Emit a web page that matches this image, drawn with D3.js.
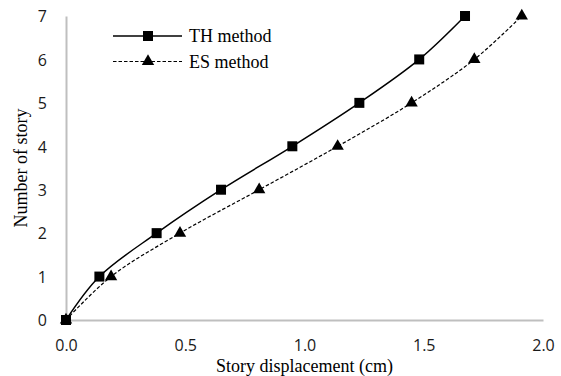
<!DOCTYPE html>
<html><head><meta charset="utf-8">
<script src="https://cdn.jsdelivr.net/npm/d3@7"></script>
<style>body{margin:0;background:#fff}svg{display:block}</style>
</head><body>
<script>
const stories = [0, 1, 2, 3, 4, 5, 6, 7];
const thValues = [0, 0.140, 0.380, 0.650, 0.949, 1.230, 1.481, 1.673];
const esValues = [0, 0.189, 0.478, 0.810, 1.139, 1.449, 1.712, 1.911];
const xTicks = [0, 0.5, 1.0, 1.5, 2.0];
const yTicks = [0, 1, 2, 3, 4, 5, 6, 7];
const seriesNames = ["TH method", "ES method"];

const W = 561, H = 376;
const svg = d3.select("body").append("svg").attr("width", W).attr("height", H);
const x = d3.scaleLinear().domain([0, 2]).range([66, 543]);
const y = d3.scaleLinear().domain([0, 7]).range([320, 16]);

// axes
const xAxis = svg.append("g").attr("transform", `translate(0,${y(0)})`)
  .call(d3.axisBottom(x).tickValues(xTicks).tickFormat(d3.format(".1f")).tickSize(0).tickPadding(20));
const yAxis = svg.append("g").attr("transform", `translate(${x(0)},0)`)
  .call(d3.axisLeft(y).tickValues(yTicks).tickFormat(d3.format("d")).tickSize(0).tickPadding(19));
[xAxis, yAxis].forEach(g => {
  g.select(".domain").attr("stroke", "#bfbfbf").attr("stroke-width", 2);
  g.selectAll("text").attr("font-family", "'Open Sans', sans-serif").attr("font-size", 16).attr("fill", "#1a1a1a");
});
yAxis.selectAll("text").attr("dy", "0.36em");
xAxis.selectAll("text").attr("dy", "0.71em");

// axis titles
svg.append("text").attr("x", (x(0) + x(2)) / 2).attr("y", 372).attr("text-anchor", "middle")
  .attr("font-family", "'Liberation Serif', 'Times New Roman', serif").attr("font-size", 18)
  .text("Story displacement (cm)");
svg.append("text").attr("transform", `translate(27,${(y(0) + y(7)) / 2}) rotate(-90)`).attr("text-anchor", "middle")
  .attr("font-family", "'Liberation Serif', 'Times New Roman', serif").attr("font-size", 18)
  .text("Number of story");

const line = d3.line().curve(d3.curveCatmullRom.alpha(0.5));
const thPts = stories.map((s, i) => [x(thValues[i]), y(s)]);
const esPts = stories.map((s, i) => [x(esValues[i]), y(s)]);

svg.append("path").attr("d", line(esPts)).attr("fill", "none").attr("stroke", "#000")
  .attr("stroke-width", 1.2).attr("stroke-dasharray", "3.5,2");
svg.append("path").attr("d", line(thPts)).attr("fill", "none").attr("stroke", "#000")
  .attr("stroke-width", 1.5);

const tri = d3.symbol().type(d3.symbolTriangle).size(66);
svg.selectAll(".tri").data(esPts).enter().append("path")
  .attr("d", tri).attr("transform", d => `translate(${d[0]},${d[1]})`).attr("fill", "#000");
svg.selectAll(".sq").data(thPts).enter().append("rect")
  .attr("x", d => d[0] - 5).attr("y", d => d[1] - 5).attr("width", 10).attr("height", 10).attr("fill", "#000");

// legend
const leg = [{name: seriesNames[0], y: 36, dash: null, w: 1.5, mark: "sq"},
             {name: seriesNames[1], y: 61.5, dash: "3.5,2", w: 1.2, mark: "tri"}];
leg.forEach(l => {
  svg.append("line").attr("x1", 113).attr("x2", 182).attr("y1", l.y).attr("y2", l.y)
    .attr("stroke", "#000").attr("stroke-width", l.w).attr("stroke-dasharray", l.dash);
  if (l.mark === "sq") svg.append("rect").attr("x", 143).attr("y", l.y - 5).attr("width", 10).attr("height", 10);
  else svg.append("path").attr("d", tri).attr("transform", `translate(148,${l.y})`);
  svg.append("text").attr("x", 189).attr("y", l.y + 6)
    .attr("font-family", "'Liberation Serif', 'Times New Roman', serif").attr("font-size", 18).text(l.name);
});
</script>
</body></html>
